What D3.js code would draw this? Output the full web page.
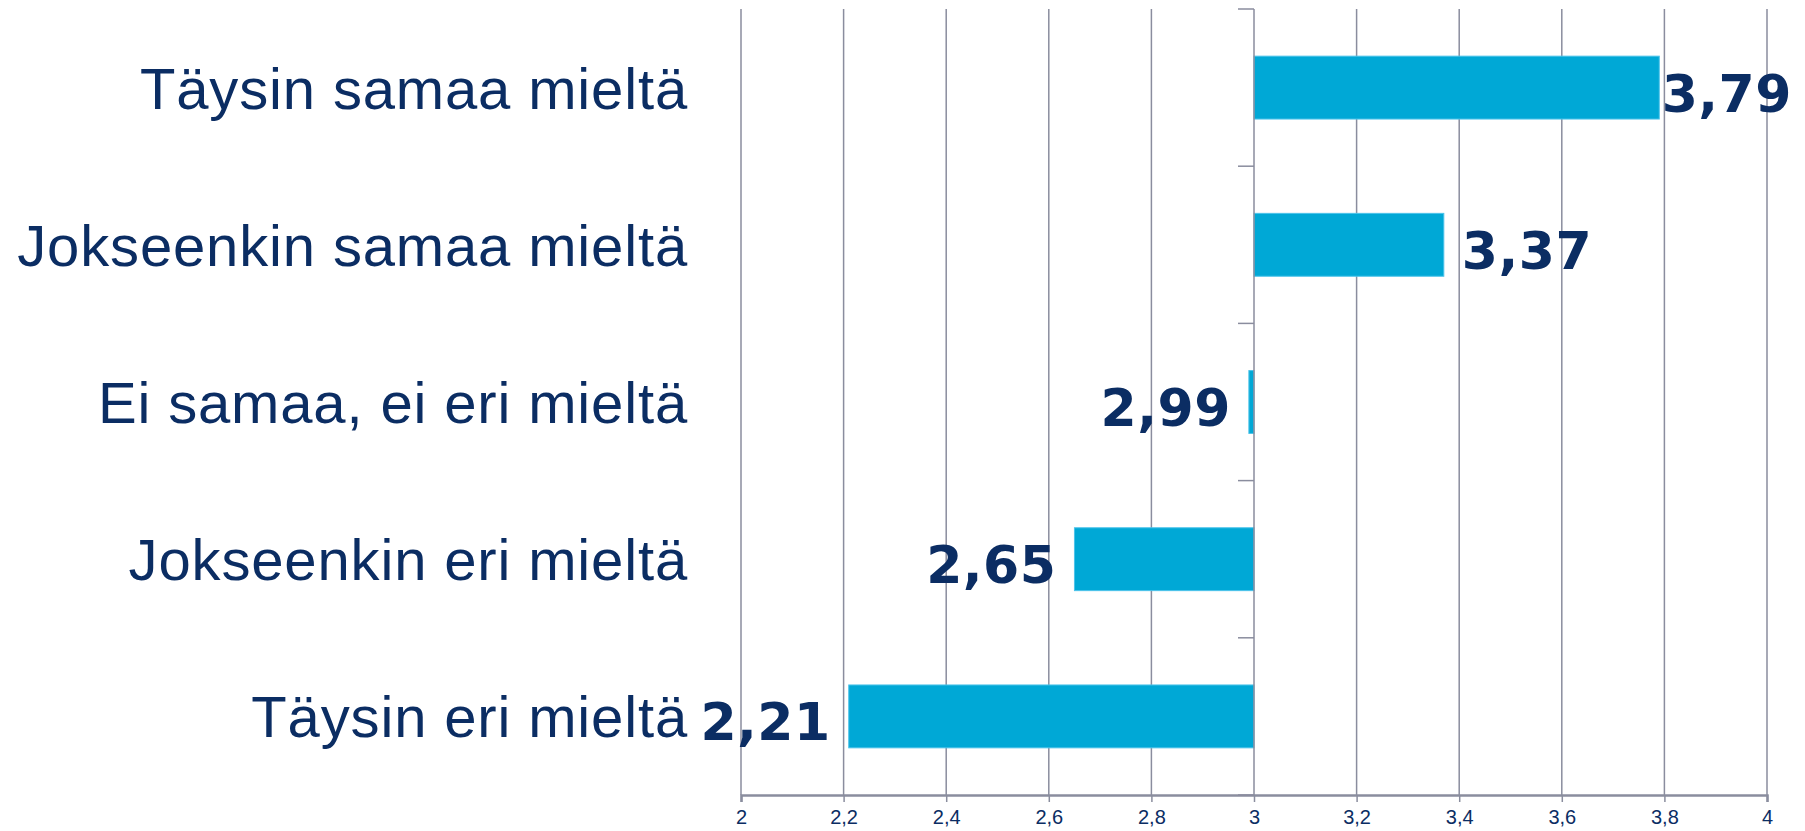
<!DOCTYPE html>
<html><head><meta charset="utf-8">
<script src="https://cdn.jsdelivr.net/npm/d3@7"></script>
<style>body{margin:0;background:#fff}svg{display:block}</style>
</head><body>
<script>
const categories = ["Täysin samaa mieltä","Jokseenkin samaa mieltä","Ei samaa, ei eri mieltä","Jokseenkin eri mieltä","Täysin eri mieltä"];
const values = [3.79, 3.37, 2.99, 2.65, 2.21];
const baseline = 3;
const tickValues = [2,2.2,2.4,2.6,2.8,3,3.2,3.4,3.6,3.8,4];

const W = 1805, H = 831;
const navy = "#0b2d63", grid = "#8a8d9e", barColor = "#00a8d6";
const svg = d3.select("body").append("svg").attr("width", W).attr("height", H);

const x = d3.scaleLinear().domain([2,4]).range([741,1767]);
const y = d3.scaleBand().domain(categories).range([9,795]).paddingInner(0.6).paddingOuter(0.3);
const step = y.step();
const fmt = v => String(v).replace(".", ",");

// gridlines
svg.append("g").selectAll("line").data(tickValues.filter(t => t !== baseline)).join("line")
  .attr("x1", d => x(d)).attr("x2", d => x(d)).attr("y1", 9).attr("y2", 795)
  .attr("stroke", grid).attr("stroke-width", 1.5);

// bottom axis
const xAxis = svg.append("g").attr("transform", "translate(0,795)")
  .call(d3.axisBottom(x).tickValues(tickValues).tickFormat(fmt).tickSize(7).tickPadding(8));
xAxis.select(".domain").attr("stroke", grid).attr("stroke-width", 2.5);
xAxis.selectAll(".tick line").attr("stroke", grid).attr("stroke-width", 1.5);
xAxis.selectAll("text").attr("fill", navy).style("font-family", "'Liberation Sans Narrow','Arial Narrow','Liberation Sans',sans-serif").style("font-size", "20px");

// bars
svg.append("g").selectAll("rect").data(values).join("rect")
  .attr("x", d => Math.min(x(d), x(baseline)))
  .attr("width", d => Math.abs(x(d) - x(baseline)))
  .attr("y", (d,i) => y(categories[i]))
  .attr("height", y.bandwidth())
  .attr("fill", barColor).attr("stroke", "#4cc3ea").attr("stroke-width", 1);

// category axis at baseline
const cat = svg.append("g");
cat.append("line").attr("x1", x(baseline)).attr("x2", x(baseline)).attr("y1", 9).attr("y2", 795)
  .attr("stroke", grid).attr("stroke-width", 1.5);
const boundaries = d3.range(categories.length + 1).map(i => y.range()[0] + i * step);
cat.selectAll("line.b").data(boundaries).join("line").attr("class","b")
  .attr("x1", x(baseline) - 16).attr("x2", x(baseline)).attr("y1", d => d).attr("y2", d => d)
  .attr("stroke", grid).attr("stroke-width", 1.5);

// category labels
svg.append("g").selectAll("text").data(categories).join("text")
  .attr("x", 688).attr("y", d => y(d) + y.bandwidth()/2 + 21)
  .attr("text-anchor", "end").attr("fill", navy)
  .style("font-family", "'Liberation Sans',Arial,sans-serif").style("font-size", "58px")
  .style("letter-spacing", "0.85px")
  .text(d => d);

// value labels
const vl = svg.append("g").selectAll("text").data(values).join("text")
  .attr("y", (d,i) => y(categories[i]) + y.bandwidth()/2 + 24)
  .attr("fill", navy)
  .style("font-family", "'DejaVu Sans',Verdana,sans-serif").style("font-weight", "bold").style("font-size", "52px")
  .style("letter-spacing", "0.5px")
  .attr("text-anchor", d => d >= baseline ? "start" : "end")
  .text(fmt);
vl.each(function(d){
  const w = this.getComputedTextLength();
  let px;
  if (d >= baseline) px = Math.min(x(d) + 18, 1792 - w);
  else px = x(d) - 18;
  d3.select(this).attr("x", px);
});
</script>
</body></html>
